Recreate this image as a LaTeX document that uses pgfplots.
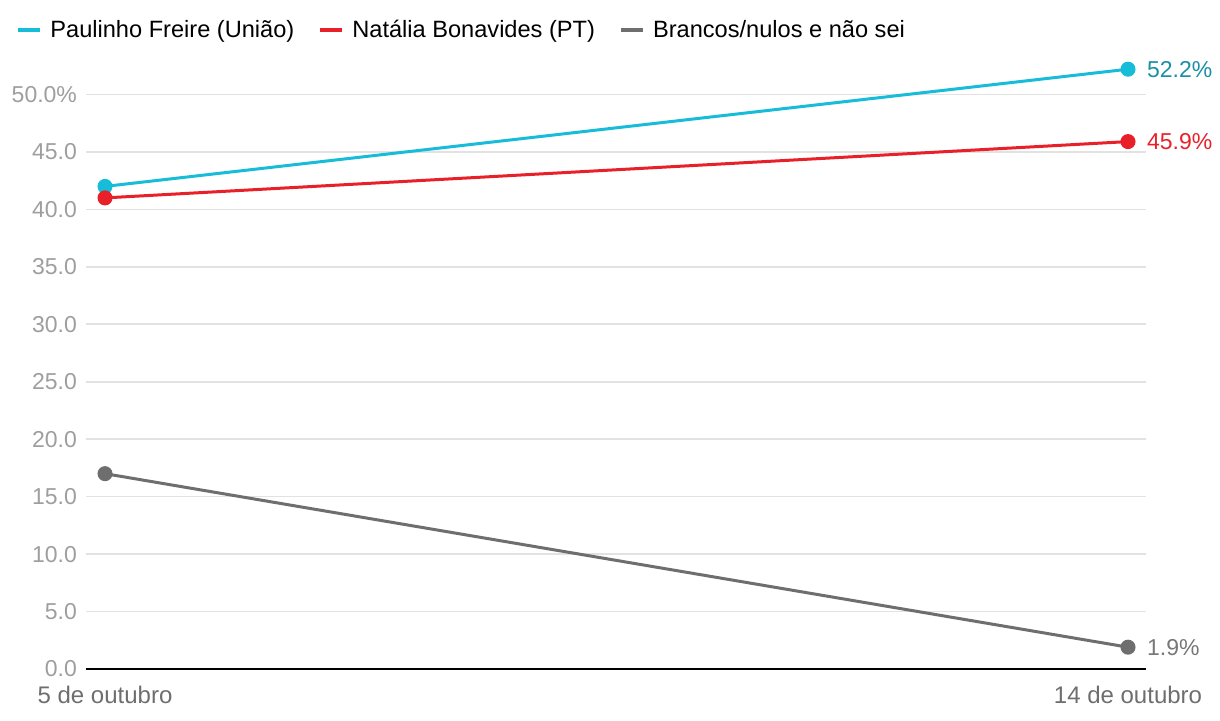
\documentclass[border=0pt]{standalone}
\usepackage{pgfplots}
\pgfplotsset{compat=1.18}
\usepackage{fontspec}
\setmainfont{Liberation Sans}
\definecolor{ccyan}{HTML}{17BCD9}
\definecolor{ccyanlab}{HTML}{1A8FA6}
\definecolor{cred}{HTML}{E8202A}
\definecolor{cgray}{HTML}{6E6E6E}
\definecolor{cgraylab}{HTML}{777777}
\definecolor{ctick}{HTML}{9E9E9E}
\definecolor{cgrid}{HTML}{E2E2E2}
\begin{document}
\begin{tikzpicture}
\path[use as bounding box] (0,0) rectangle (610pt,360pt);
\begin{axis}[
  at={(43pt,25.5pt)}, anchor=south west,
  scale only axis, width=530pt, height=304.5pt,
  xmin=-0.0186, xmax=1.0176, ymin=0, ymax=53,
  axis x line*=bottom, axis y line*=left,
  x axis line style={black, line width=1pt, -},
  y axis line style={draw=none},
  xtick={0,1}, xticklabels={5 de outubro,14 de outubro},
  xtick style={draw=none},
  xticklabel style={text=cgray, font=\fontsize{12}{14}\selectfont, yshift=-5pt},
  ytick={0,5,...,50},
  yticklabels={0.0,5.0,10.0,15.0,20.0,25.0,30.0,35.0,40.0,45.0,50.0\%},
  ymajorgrids, major grid style={cgrid, line width=0.8pt},
  ytick style={draw=none},
  yticklabel style={text=ctick, font=\fontsize{11.5}{13}\selectfont, xshift=-1pt},
  clip=false,
  legend columns=-1,
  legend style={at={(-0.0717,1.049)}, anchor=west, draw=none, fill=none,
    font=\fontsize{11.8}{13}\selectfont, column sep=2pt,
    /tikz/every even column/.append style={column sep=10pt}},
  legend image code/.code={\draw[line width=2pt,#1] (0pt,0pt) -- (11pt,0pt);},
]
\addplot[ccyan, line width=1.5pt, mark=*, mark size=3pt] coordinates {(0,42.0) (1,52.2)};
\addlegendentry{Paulinho Freire (União)}
\addplot[cred, line width=1.5pt, mark=*, mark size=3pt] coordinates {(0,41.0) (1,45.9)};
\addlegendentry{Natália Bonavides (PT)}
\addplot[cgray, line width=1.5pt, mark=*, mark size=3pt] coordinates {(0,17.0) (1,1.9)};
\addlegendentry{Brancos/nulos e não sei}
\node[anchor=west, text=ccyanlab, font=\fontsize{11.5}{13}\selectfont] at (axis cs:1,52.2) [xshift=6pt] {52.2\%};
\node[anchor=west, text=cred, font=\fontsize{11.5}{13}\selectfont] at (axis cs:1,45.9) [xshift=6pt] {45.9\%};
\node[anchor=west, text=cgraylab, font=\fontsize{11.5}{13}\selectfont] at (axis cs:1,1.9) [xshift=6pt] {1.9\%};
\end{axis}
\end{tikzpicture}
\end{document}
